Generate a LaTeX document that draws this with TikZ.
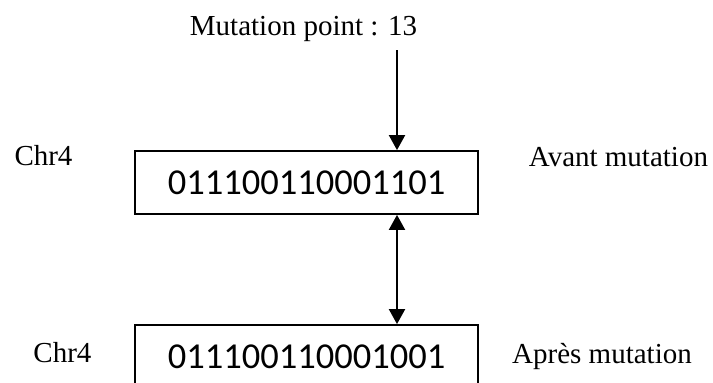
\documentclass[tikz,border=0pt]{standalone}
\usepackage{fontspec}
\setmainfont{Liberation Serif}
\newfontfamily\bitfont{Carlito}
\usetikzlibrary{arrows.meta,positioning}

\tikzset{
    chrombox/.style={draw=black, line width=1.8pt, minimum width=343pt, minimum height=63pt,
        inner sep=0pt, font=\bitfont\fontsize{36.5}{40}\selectfont},
    lbl/.style={anchor=base, inner sep=0pt, font=\fontsize{29}{32}\selectfont},
    link/.style={line width=2pt, -{Triangle[length=15pt,width=16pt]}},
    biglink/.style={line width=2pt, {Triangle[length=15pt,width=16pt]}-{Triangle[length=15pt,width=16pt]}}
}

\begin{document}
\begin{tikzpicture}[x=1pt,y=-1pt]
    \useasboundingbox (0,0) rectangle (713,383);
    \clip (0,0) rectangle (713,383);

    \node[lbl] (mpoint) at (303.5,35) {Mutation point : 13};
    \coordinate (mstart) at (397,50);

    \node[chrombox] (avant) at (306.5,182.5) {011100110001101};
    \node[chrombox] (apres) at (306.5,356.5) {011100110001001};

    \node[lbl] (chra) at (43.5,165) {Chr4};
    \node[lbl] (chrb) at (62.5,362) {Chr4};
    \node[lbl] (txta) at (618.5,166) {Avant mutation};
    \node[lbl] (txtb) at (602,363) {Après mutation};

    \draw[link] (mstart) -- (mstart |- avant.north);
    \draw[biglink] (mstart |- avant.south) -- (mstart |- apres.north);
\end{tikzpicture}
\end{document}
